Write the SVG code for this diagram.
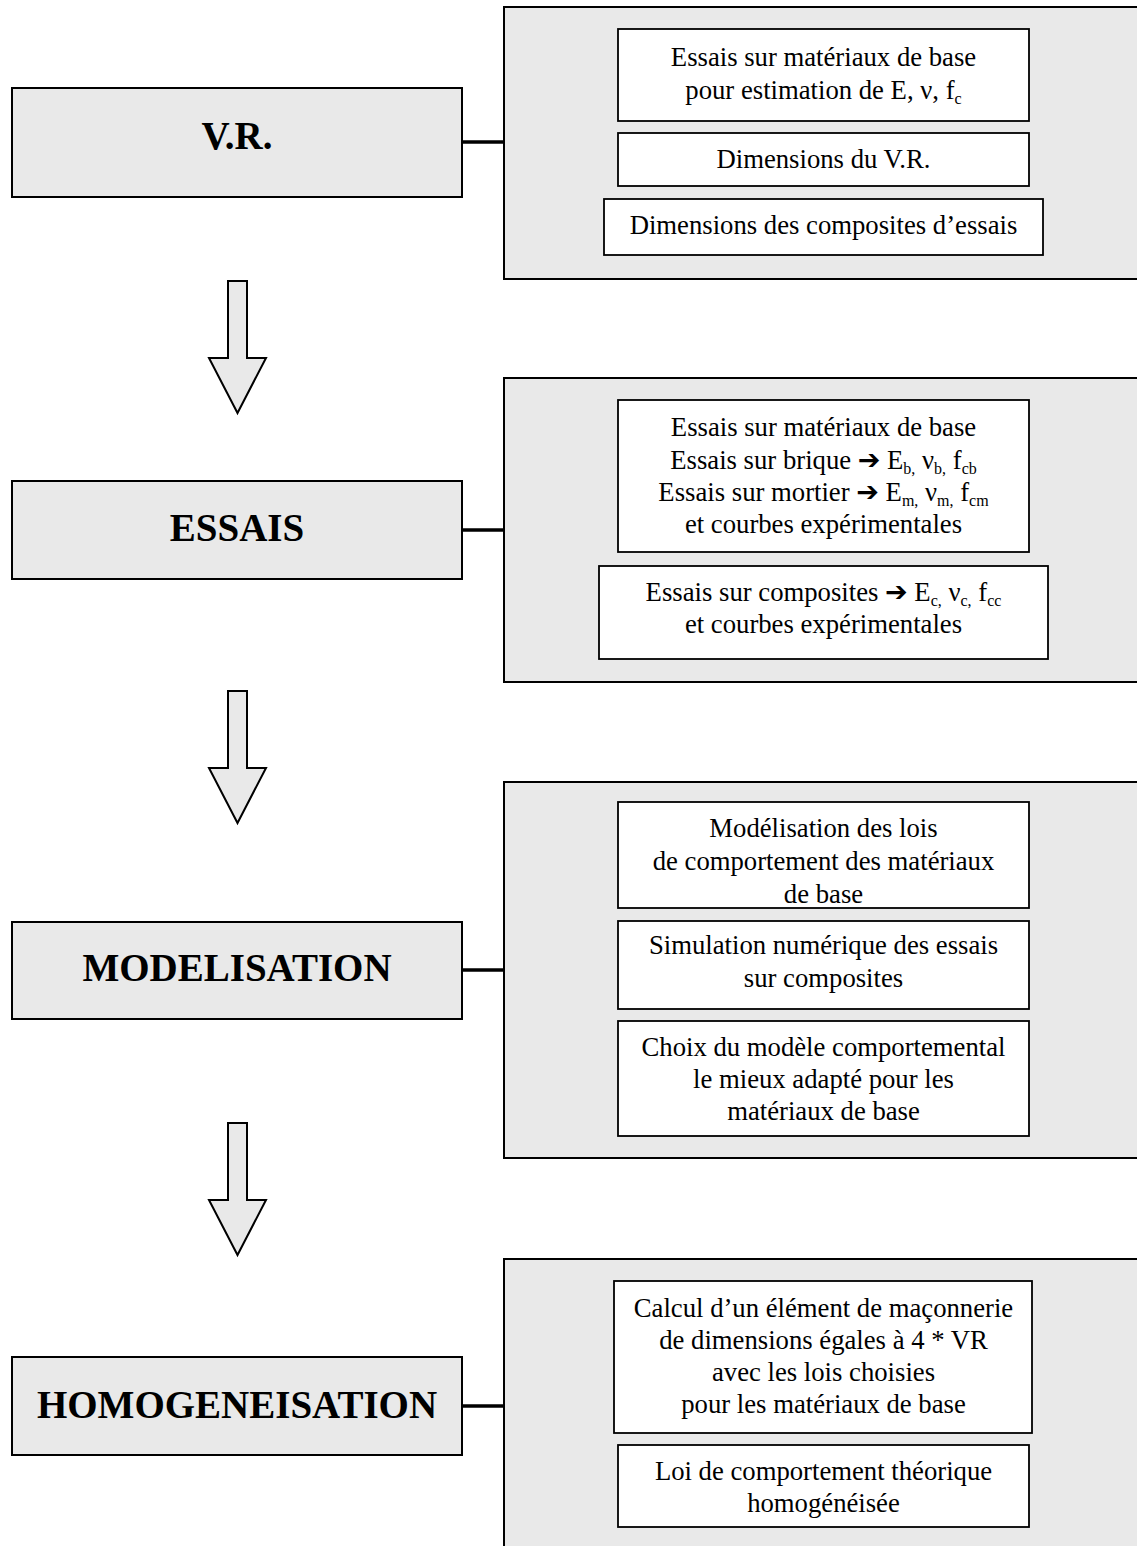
<svg xmlns="http://www.w3.org/2000/svg" width="1137" height="1546" viewBox="0 0 1137 1546">
<style>
  text { font-family: "Liberation Serif", "Times New Roman", serif; fill: #000; }
  .step { fill: #e9e9e9; stroke: #000; stroke-width: 2; }
  .panel { fill: #e9e9e9; stroke: #000; stroke-width: 2; }
  .item { fill: #fff; stroke: #000; stroke-width: 1.8; }
  .title { font-size: 39px; font-weight: bold; text-anchor: middle; }
  .body { font-size: 26.7px; text-anchor: middle; }
  .sub { font-size: 16px; }
  .ar { font-family: "DejaVu Sans", sans-serif; font-size: 27px; }
  .link { stroke: #000; stroke-width: 3.5; fill: none; }
  .flow { fill: #e9e9e9; stroke: #000; stroke-width: 2; stroke-linejoin: miter; }
</style>

<!-- Step 1: V.R. -->
<g id="step-vr">
  <rect class="step" x="12" y="88" width="450" height="109"/>
  <text class="title" x="237" y="149">V.R.</text>
</g>
<g id="panel-vr">
  <rect class="panel" x="504" y="7" width="640" height="272"/>
</g>
<g id="vr-item1">
  <rect class="item" x="618" y="29" width="411" height="92"/>
  <text class="body" x="823.5" y="66">Essais sur matériaux de base</text>
  <text class="body" x="823.5" y="99">pour estimation de E, ν, f<tspan class="sub" dy="5">c</tspan></text>
</g>
<g id="vr-item2">
  <rect class="item" x="618" y="133" width="411" height="53"/>
  <text class="body" x="823.5" y="168">Dimensions du V.R.</text>
</g>
<g id="vr-item3">
  <rect class="item" x="604" y="199" width="439" height="56"/>
  <text class="body" x="823.5" y="234">Dimensions des composites d’essais</text>
</g>

<!-- Step 2: ESSAIS -->
<g id="step-essais">
  <rect class="step" x="12" y="481" width="450" height="98"/>
  <text class="title" x="237" y="541">ESSAIS</text>
</g>
<g id="panel-essais">
  <rect class="panel" x="504" y="378" width="640" height="304"/>
</g>
<g id="essais-item1">
  <rect class="item" x="618" y="400" width="411" height="152"/>
  <text class="body" x="823.5" y="436">Essais sur matériaux de base</text>
  <text class="body" x="823.5" y="469">Essais sur brique <tspan class="ar">➔</tspan> E<tspan class="sub" dy="5">b,</tspan><tspan dy="-5"> ν</tspan><tspan class="sub" dy="5">b,</tspan><tspan dy="-5"> f</tspan><tspan class="sub" dy="5">cb</tspan></text>
  <text class="body" x="823.5" y="501">Essais sur mortier <tspan class="ar">➔</tspan> E<tspan class="sub" dy="5">m,</tspan><tspan dy="-5"> ν</tspan><tspan class="sub" dy="5">m,</tspan><tspan dy="-5"> f</tspan><tspan class="sub" dy="5">cm</tspan></text>
  <text class="body" x="823.5" y="533">et courbes expérimentales</text>
</g>
<g id="essais-item2">
  <rect class="item" x="599" y="566" width="449" height="93"/>
  <text class="body" x="823.5" y="601">Essais sur composites <tspan class="ar">➔</tspan> E<tspan class="sub" dy="5">c,</tspan><tspan dy="-5"> ν</tspan><tspan class="sub" dy="5">c,</tspan><tspan dy="-5"> f</tspan><tspan class="sub" dy="5">cc</tspan></text>
  <text class="body" x="823.5" y="633">et courbes expérimentales</text>
</g>

<!-- Step 3: MODELISATION -->
<g id="step-modelisation">
  <rect class="step" x="12" y="922" width="450" height="97"/>
  <text class="title" x="237" y="981">MODELISATION</text>
</g>
<g id="panel-modelisation">
  <rect class="panel" x="504" y="782" width="640" height="376"/>
</g>
<g id="mod-item1">
  <rect class="item" x="618" y="802" width="411" height="106"/>
  <text class="body" x="823.5" y="837">Modélisation des lois</text>
  <text class="body" x="823.5" y="870">de comportement des matériaux</text>
  <text class="body" x="823.5" y="903">de base</text>
</g>
<g id="mod-item2">
  <rect class="item" x="618" y="921" width="411" height="88"/>
  <text class="body" x="823.5" y="954">Simulation numérique des essais</text>
  <text class="body" x="823.5" y="987">sur composites</text>
</g>
<g id="mod-item3">
  <rect class="item" x="618" y="1021" width="411" height="115"/>
  <text class="body" x="823.5" y="1056">Choix du modèle comportemental</text>
  <text class="body" x="823.5" y="1088">le mieux adapté pour les</text>
  <text class="body" x="823.5" y="1120">matériaux de base</text>
</g>

<!-- Step 4: HOMOGENEISATION -->
<g id="step-homogeneisation">
  <rect class="step" x="12" y="1357" width="450" height="98"/>
  <text class="title" x="237" y="1418">HOMOGENEISATION</text>
</g>
<g id="panel-homogeneisation">
  <rect class="panel" x="504" y="1259" width="640" height="300"/>
</g>
<g id="hom-item1">
  <rect class="item" x="614" y="1281" width="418" height="152"/>
  <text class="body" x="823.5" y="1317">Calcul d’un élément de maçonnerie</text>
  <text class="body" x="823.5" y="1349">de dimensions égales à 4 * VR</text>
  <text class="body" x="823.5" y="1381">avec les lois choisies</text>
  <text class="body" x="823.5" y="1413">pour les matériaux de base</text>
</g>
<g id="hom-item2">
  <rect class="item" x="618" y="1445" width="411" height="82"/>
  <text class="body" x="823.5" y="1480">Loi de comportement théorique</text>
  <text class="body" x="823.5" y="1512">homogénéisée</text>
</g>

<!-- Connectors -->
<g id="connectors">
  <line class="link" x1="462" y1="142" x2="504" y2="142"/>
  <line class="link" x1="462" y1="530" x2="504" y2="530"/>
  <line class="link" x1="462" y1="970" x2="504" y2="970"/>
  <line class="link" x1="462" y1="1406" x2="504" y2="1406"/>
  <path class="flow" d="M228,281 H247 V358 H266 L237.5,413 L209,358 H228 Z"/>
  <path class="flow" d="M228,691 H247 V768 H266 L237.5,823 L209,768 H228 Z"/>
  <path class="flow" d="M228,1123 H247 V1200 H266 L237.5,1255 L209,1200 H228 Z"/>
</g>
</svg>
